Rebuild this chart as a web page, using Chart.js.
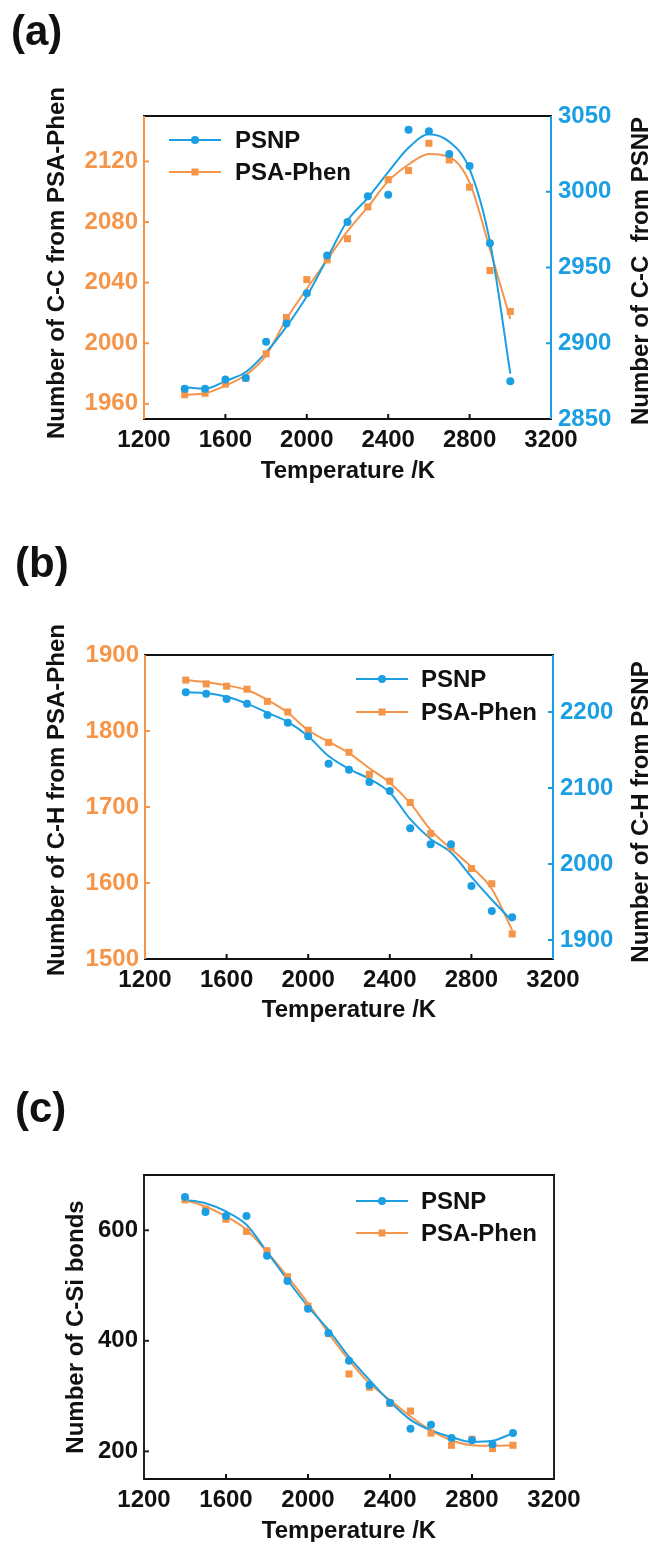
<!DOCTYPE html>
<html>
<head>
<meta charset="utf-8">
<title>Bond counts vs temperature</title>
<script src="https://cdn.jsdelivr.net/npm/chart.js@4.4.1/dist/chart.umd.min.js"></script>
<style>
  html, body { margin: 0; padding: 0; background: #fff; }
  #page { position: relative; width: 652px; height: 1542px; overflow: hidden; }
  canvas { position: absolute; left: 0; }
</style>
</head>
<body>
<div id="page">
  <canvas id="chartA" width="652" height="500" style="top:0"></canvas>
  <canvas id="chartB" width="652" height="520" style="top:510px"></canvas>
  <canvas id="chartC" width="652" height="502" style="top:1040px"></canvas>
</div>
<script>
// temperatures (K)
const temps = [1400, 1500, 1600, 1700, 1800, 1900, 2000, 2100, 2200, 2300, 2400, 2500, 2600, 2700, 2800, 2900, 3000];
const tempTicks = [1200, 1600, 2000, 2400, 2800, 3200];

// (a) C-C bonds
const ccPsnp = [2870, 2870, 2876, 2877, 2901, 2913, 2933, 2958, 2980, 2997, 2998, 3041, 3040, 3025, 3017, 2966, 2875];
const ccPhen = [1966, 1967, 1973, 1977, 1993, 2017, 2042, 2055, 2069, 2090, 2108, 2114, 2132, 2121, 2103, 2048, 2021];
const ccPsnpFit = [2871, 2870, 2875, 2881, 2894, 2911, 2931, 2956, 2981, 2996, 3013, 3029, 3038, 3033, 3015, 2967, 2880];
const ccPhenFit = [1966, 1967, 1972, 1979, 1992, 2016, 2036, 2055, 2074, 2090, 2107, 2118, 2125, 2123, 2106, 2062, 2016];
const ccPhenTicks = [1960, 2000, 2040, 2080, 2120];
const ccPsnpTicks = [2850, 2900, 2950, 3000, 3050];

// (b) C-H bonds
const chPsnp = [2226, 2224, 2217, 2211, 2196, 2186, 2168, 2132, 2124, 2108, 2096, 2047, 2026, 2026, 1971, 1938, 1930];
const chPhen = [1867, 1862, 1859, 1855, 1839, 1825, 1801, 1785, 1772, 1743, 1734, 1706, 1665, 1647, 1619, 1599, 1533];
const chPsnpFit = [2226, 2225, 2220, 2211, 2199, 2187, 2168, 2142, 2125, 2112, 2094, 2059, 2033, 2015, 1983, 1953, 1925];
const chPhenFit = [1867, 1864, 1860, 1854, 1841, 1824, 1801, 1786, 1771, 1751, 1732, 1705, 1670, 1645, 1621, 1592, 1538];
const chPhenTicks = [1500, 1600, 1700, 1800, 1900];
const chPsnpTicks = [1900, 2000, 2100, 2200];

// (c) C-Si bonds
const csiPsnp = [660, 633, 626, 626, 554, 508, 458, 414, 364, 320, 288, 241, 248, 224, 220, 213, 233];
const csiPhen = [655, 638, 620, 598, 563, 516, 463, 413, 340, 316, 287, 273, 233, 211, 222, 205, 211];
const csiPsnpFit = [655, 649, 634, 610, 561, 510, 462, 420, 371, 329, 290, 257, 238, 226, 217, 219, 233];
const csiPhenFit = [655, 643, 625, 601, 561, 516, 468, 414, 365, 323, 293, 263, 238, 220, 211, 210, 211];
const csiTicks = [200, 400, 600];

const BLUE = '#1C9FE2';
const ORANGE = '#F5954A';
const INK = '#111111';
const FONT = '"Liberation Sans", Arial, Helvetica, sans-serif';
const tickFont = { family: FONT, size: 24, weight: 'bold' };

const xy = (xs, ys) => xs.map((x, i) => ({ x: x, y: ys[i] }));

function markers(label, ys, color, style, axis) {
    return {
        label: label,
        legend: true,
        data: xy(temps, ys),
        yAxisID: axis,
        showLine: false,
        pointStyle: style,
        pointRadius: style === 'rect' ? 5 : 4,
        pointBorderWidth: 0,
        backgroundColor: color,
        borderColor: color
    };
}

function fitLine(ys, color, axis) {
    return {
        label: 'fit',
        data: xy(temps, ys),
        yAxisID: axis,
        showLine: true,
        borderColor: color,
        borderWidth: 2,
        pointRadius: 0,
        cubicInterpolationMode: 'monotone',
        fill: false
    };
}

function xAxis(height) {
    return {
        type: 'linear',
        min: 1200,
        max: 3200,
        afterBuildTicks: s => { s.ticks = tempTicks.map(v => ({ value: v })); },
        afterFit: s => { s.height = height; },
        grid: { display: false, drawTicks: false },
        border: { display: false },
        ticks: { color: INK, padding: 7, font: tickFont, maxRotation: 0, minRotation: 0, autoSkip: false, callback: v => String(v) }
    };
}

function yAxis(position, min, max, tickValues, color, width) {
    return {
        type: 'linear',
        position: position,
        min: min,
        max: max,
        afterBuildTicks: s => { s.ticks = tickValues.map(v => ({ value: v })); },
        afterFit: s => { s.width = width; },
        grid: { display: false, drawTicks: false },
        border: { display: false },
        ticks: { color: color, padding: position === 'left' ? 6 : 7, font: tickFont, autoSkip: false, callback: v => String(v) }
    };
}

// frame, inward ticks, titles and the line+marker legend
const panelDecor = {
    id: 'panelDecor',
    afterDraw(chart, args, opts) {
        const { ctx, chartArea: a, scales } = chart;
        ctx.save();
        ctx.lineWidth = 2;
        ctx.lineCap = 'butt';

        const seg = (x1, y1, x2, y2, color) => {
            ctx.strokeStyle = color;
            ctx.beginPath();
            ctx.moveTo(x1, y1);
            ctx.lineTo(x2, y2);
            ctx.stroke();
        };

        scales.x.ticks.forEach(t => {
            const px = scales.x.getPixelForValue(t.value);
            seg(px, a.bottom, px, a.bottom - 5, INK);
        });
        if (scales.yL) scales.yL.ticks.forEach(t => {
            const py = scales.yL.getPixelForValue(t.value);
            seg(a.left, py, a.left + 5, py, opts.leftColor);
        });
        if (scales.yR) scales.yR.ticks.forEach(t => {
            const py = scales.yR.getPixelForValue(t.value);
            seg(a.right, py, a.right - 5, py, opts.rightColor);
        });

        seg(a.left - 1, a.top, a.right + 1, a.top, INK);
        seg(a.left - 1, a.bottom, a.right + 1, a.bottom, INK);
        seg(a.left, a.top, a.left, a.bottom, opts.leftColor);
        seg(a.right, a.top, a.right, a.bottom, opts.rightColor);

        (opts.texts || []).forEach(t => {
            ctx.save();
            ctx.translate(t.x, t.y);
            if (t.rotate) ctx.rotate(t.rotate);
            ctx.font = `bold ${t.size || 24}px ${FONT}`;
            ctx.fillStyle = t.color || INK;
            ctx.textAlign = t.align || 'center';
            ctx.textBaseline = 'middle';
            ctx.fillText(t.text, 0, 0);
            ctx.restore();
        });

        const lg = opts.legend;
        chart.data.datasets.filter(d => d.legend).forEach((d, i) => {
            const y = lg.y + i * lg.rowGap;
            seg(lg.x, y, lg.x + lg.lineLen, y, d.borderColor);
            const cx = lg.x + lg.lineLen / 2;
            ctx.fillStyle = d.backgroundColor;
            ctx.beginPath();
            if (d.pointStyle === 'rect') {
                ctx.rect(cx - 3.5, y - 3.5, 7, 7);
            } else {
                ctx.arc(cx, y, 4, 0, Math.PI * 2);
            }
            ctx.fill();
            ctx.font = `bold 24px ${FONT}`;
            ctx.fillStyle = INK;
            ctx.textAlign = 'left';
            ctx.textBaseline = 'middle';
            ctx.fillText(d.label, lg.x + lg.lineLen + lg.textGap, y + 1);
        });
        ctx.restore();
    }
};

function buildChart(canvasId, datasets, scales, padding, decor) {
    return new Chart(document.getElementById(canvasId), {
        type: 'scatter',
        data: { datasets: datasets },
        options: {
            responsive: false,
            animation: false,
            devicePixelRatio: 1,
            layout: { padding: padding },
            plugins: {
                legend: { display: false },
                tooltip: { enabled: false },
                panelDecor: decor
            },
            scales: scales
        },
        plugins: [panelDecor]
    });
}

const UP = -Math.PI / 2;

// (a)
buildChart('chartA', [
    markers('PSNP', ccPsnp, BLUE, 'circle', 'yR'),
    markers('PSA-Phen', ccPhen, ORANGE, 'rect', 'yL'),
    fitLine(ccPsnpFit, BLUE, 'yR'),
    fitLine(ccPhenFit, ORANGE, 'yL')
], {
    x: xAxis(81),
    yL: yAxis('left', 1950, 2150, ccPhenTicks, ORANGE, 144),
    yR: yAxis('right', 2850, 3050, ccPsnpTicks, BLUE, 101)
}, { left: 0, right: 0, top: 116, bottom: 0 }, {
    leftColor: ORANGE,
    rightColor: BLUE,
    legend: { x: 169, y: 140, rowGap: 32, lineLen: 52, textGap: 14 },
    texts: [
        { text: '(a)', x: 11, y: 33, size: 42, align: 'left' },
        { text: 'Number of C-C from PSA-Phen', x: 57, y: 263, rotate: UP },
        { text: 'Number of C-C  from PSNP', x: 641, y: 271, rotate: UP },
        { text: 'Temperature /K', x: 348, y: 471 }
    ]
});

// (b)
buildChart('chartB', [
    markers('PSNP', chPsnp, BLUE, 'circle', 'yR'),
    markers('PSA-Phen', chPhen, ORANGE, 'rect', 'yL'),
    fitLine(chPsnpFit, BLUE, 'yR'),
    fitLine(chPhenFit, ORANGE, 'yL')
], {
    x: xAxis(71),
    yL: yAxis('left', 1500, 1900, chPhenTicks, ORANGE, 145),
    yR: yAxis('right', 1875, 2275, chPsnpTicks, BLUE, 99)
}, { left: 0, right: 0, top: 145, bottom: 0 }, {
    leftColor: ORANGE,
    rightColor: BLUE,
    legend: { x: 356, y: 169, rowGap: 33, lineLen: 52, textGap: 13 },
    texts: [
        { text: '(b)', x: 15, y: 55, size: 42, align: 'left' },
        { text: 'Number of C-H from PSA-Phen', x: 57, y: 290, rotate: UP },
        { text: 'Number of C-H from PSNP', x: 641, y: 302, rotate: UP },
        { text: 'Temperature /K', x: 349, y: 500 }
    ]
});

// (c)
buildChart('chartC', [
    markers('PSNP', csiPsnp, BLUE, 'circle', 'yL'),
    markers('PSA-Phen', csiPhen, ORANGE, 'rect', 'yL'),
    fitLine(csiPsnpFit, BLUE, 'yL'),
    fitLine(csiPhenFit, ORANGE, 'yL')
], {
    x: xAxis(63),
    yL: yAxis('left', 150, 700, csiTicks, INK, 144)
}, { left: 0, right: 98, top: 135, bottom: 0 }, {
    leftColor: '#222222',
    rightColor: '#222222',
    legend: { x: 356, y: 161, rowGap: 32, lineLen: 52, textGap: 13 },
    texts: [
        { text: '(c)', x: 15, y: 70, size: 42, align: 'left' },
        { text: 'Number of C-Si bonds', x: 76, y: 287, rotate: UP },
        { text: 'Temperature /K', x: 349, y: 491 }
    ]
});
</script>
</body>
</html>
